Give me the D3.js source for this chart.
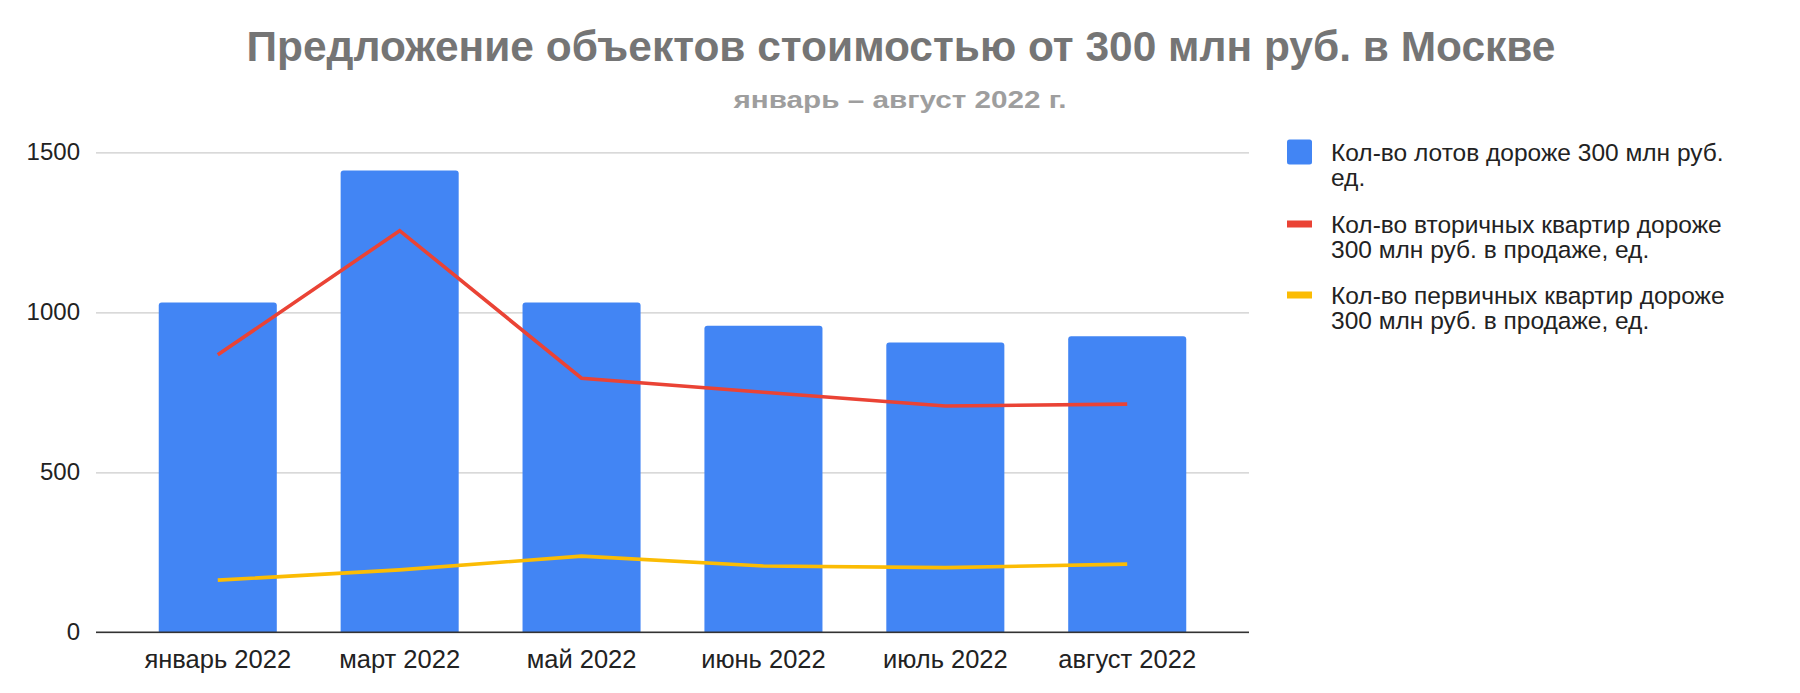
<!DOCTYPE html>
<html>
<head>
<meta charset="utf-8">
<script src="https://cdn.jsdelivr.net/npm/d3@7"></script>
<style>
  html, body { margin: 0; padding: 0; background: #fff; }
  svg { display: block; font-family: "Liberation Sans", Arial, Helvetica, sans-serif; }
</style>
</head>
<body>
<svg id="chart" width="1800" height="693"></svg>
<script>
// ---- Data ----
const categories = ["январь 2022", "март 2022", "май 2022", "июнь 2022", "июль 2022", "август 2022"];
const lotsValues = [1031, 1443, 1031, 958, 906, 925];
const secondaryValues = [867, 1255, 794, 750, 707, 713];
const primaryValues = [163, 195, 238, 207, 202, 213];
const yTicks = [0, 500, 1000, 1500];
const titleText = "Предложение объектов стоимостью от 300 млн руб. в Москве";
const subtitleText = "январь – август 2022 г.";
const legendLabels = [
  ["Кол-во лотов дороже 300 млн руб.", "ед."],
  ["Кол-во вторичных квартир дороже", "300 млн руб. в продаже, ед."],
  ["Кол-во первичных квартир дороже", "300 млн руб. в продаже, ед."]
];
const colors = ["#4285f4", "#ea4335", "#fbbc04"];

// ---- Layout ----
const svg = d3.select("#chart");
const plotLeft = 96, plotRight = 1249, plotTop = 152.3, plotBottom = 632.3;

const x = d3.scaleBand().domain(categories).range([plotLeft, plotRight])
  .paddingInner(0.351).paddingOuter(0.345);
const y = d3.scaleLinear().domain([0, 1500]).range([plotBottom, plotTop]);

// Title
svg.append("text").attr("x", 901).attr("y", 61).attr("text-anchor", "middle")
  .attr("font-size", 42).attr("font-weight", "bold").attr("fill", "#757575")
  .attr("textLength", 1309).attr("lengthAdjust", "spacingAndGlyphs")
  .text(titleText);
svg.append("text").attr("x", 900).attr("y", 108).attr("text-anchor", "middle")
  .attr("font-size", 24).attr("font-weight", "bold").attr("fill", "#9e9e9e")
  .attr("textLength", 333).attr("lengthAdjust", "spacingAndGlyphs")
  .text(subtitleText);

// Gridlines + y axis labels
const yAxis = d3.axisLeft(y).tickValues(yTicks).tickSize(-(plotRight - plotLeft)).tickPadding(16)
  .tickFormat(d3.format("d"));
const gy = svg.append("g").attr("transform", `translate(${plotLeft},0)`).call(yAxis);
gy.select(".domain").remove();
gy.selectAll(".tick line").attr("stroke", "#cccccc").attr("stroke-width", 1.3);
gy.selectAll(".tick text").attr("font-size", 24).attr("fill", "#222")
  .attr("font-family", "'Liberation Sans', Arial, sans-serif");

// Bars with rounded top corners
const r = 3;
svg.append("g").selectAll("path").data(lotsValues).join("path")
  .attr("fill", colors[0])
  .attr("d", (d, i) => {
    const x0 = x(categories[i]), w = x.bandwidth(), y0 = y(d), y1 = y(0);
    return `M${x0},${y1}V${y0 + r}Q${x0},${y0} ${x0 + r},${y0}H${x0 + w - r}Q${x0 + w},${y0} ${x0 + w},${y0 + r}V${y1}Z`;
  });

// Zero axis line
svg.append("line").attr("x1", plotLeft).attr("x2", plotRight).attr("y1", y(0)).attr("y2", y(0))
  .attr("stroke", "#333").attr("stroke-width", 1.6);

// Lines
const line = d3.line().x((d, i) => x(categories[i]) + x.bandwidth() / 2).y(d => y(d));
[[secondaryValues, colors[1]], [primaryValues, colors[2]]].forEach(([vals, c]) => {
  svg.append("path").datum(vals).attr("d", line).attr("fill", "none")
    .attr("stroke", c).attr("stroke-width", 3.6).attr("stroke-linejoin", "miter");
});

// X axis labels
const xAxis = d3.axisBottom(x).tickSize(0).tickPadding(18);
const gx = svg.append("g").attr("transform", `translate(0,${plotBottom})`).call(xAxis);
gx.select(".domain").remove();
gx.selectAll(".tick text").attr("font-size", 25.5).attr("fill", "#222")
  .attr("font-family", "'Liberation Sans', Arial, sans-serif");

// Legend
const legend = svg.append("g");
const itemY = [152, 224, 295];
legendLabels.forEach((lines, i) => {
  const g = legend.append("g");
  if (i === 0) {
    g.append("rect").attr("x", 1287).attr("y", itemY[i] - 12.5).attr("width", 25).attr("height", 25)
      .attr("rx", 2.5).attr("fill", colors[i]);
  } else {
    g.append("rect").attr("x", 1287).attr("y", itemY[i] - 3.5).attr("width", 25).attr("height", 7)
      .attr("fill", colors[i]);
  }
  lines.forEach((t, j) => {
    g.append("text").attr("x", 1331).attr("y", itemY[i] + 8.5 + j * 25.5)
      .attr("font-size", 24.5).attr("fill", "#222").text(t);
  });
});
</script>
</body>
</html>
